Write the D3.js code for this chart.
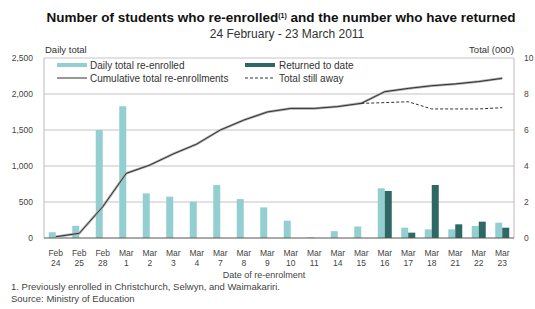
<!DOCTYPE html>
<html>
<head>
<meta charset="utf-8">
<script src="https://cdn.jsdelivr.net/npm/d3@7"></script>
<style>
  body { margin: 0; background: #fff; }
  text { font-family: "Liberation Sans", Arial, sans-serif; fill: #333; }
</style>
</head>
<body>
<div class="container"></div>
<script>
const dates = ["Feb 24","Feb 25","Feb 28","Mar 1","Mar 2","Mar 3","Mar 4","Mar 7","Mar 8","Mar 9",
               "Mar 10","Mar 11","Mar 14","Mar 15","Mar 16","Mar 17","Mar 18","Mar 21","Mar 22","Mar 23"];
const dailyReenrolled = [80,170,1500,1830,620,575,505,735,540,425,240,10,95,160,690,143,120,120,167,213];
const returnedToDate = [0,0,0,0,0,0,0,0,0,0,0,0,0,0,653,74,736,190,227,143];
const cumulativeTotal = [0.07,0.26,1.74,3.59,4.05,4.67,5.22,6.0,6.55,7.0,7.2,7.2,7.3,7.48,8.13,8.31,8.46,8.56,8.69,8.87];
const stillAway = [null,null,null,null,null,null,null,null,null,null,null,null,null,7.48,7.52,7.57,7.17,7.17,7.17,7.24];
const leftTicks = [0,500,1000,1500,2000,2500];
const rightTicks = [0,2,4,6,8,10];

const w = 535, h = 309;
const padL = 44, padR = 514, plotTop = 58, plotBottom = 238;

const svg = d3.select('.container').append('svg')
  .attr('width', w).attr('height', h);

const x = d3.scaleBand().domain(dates).range([padL, padR]);
const yL = d3.scaleLinear().domain([0, 2500]).range([plotBottom, plotTop]);
const yR = d3.scaleLinear().domain([0, 10]).range([plotBottom, plotTop]);

// title
svg.append('text')
  .attr('x', 281).attr('y', 22)
  .attr('text-anchor', 'middle')
  .style('font-size', '13.5px').style('font-weight', 'bold').style('fill', '#111')
  .html('Number of students who re-enrolled<tspan dy="-4" style="font-size:7px">(1)</tspan><tspan dy="4"> and the number who have returned</tspan>');
svg.append('text')
  .attr('x', 287).attr('y', 38)
  .attr('text-anchor', 'middle')
  .style('font-size', '12px')
  .text('24 February - 23 March 2011');

svg.append('text').attr('x', 45).attr('y', 53).style('font-size', '9.5px').text('Daily total');
svg.append('text').attr('x', 514).attr('y', 53).attr('text-anchor', 'end').style('font-size', '9.5px').text('Total (000)');

// gridlines
const grid = svg.append('g');
leftTicks.filter(d => d > 0).forEach(function(d, i) {
  grid.append('line')
    .attr('x1', padL).attr('x2', padR)
    .attr('y1', yL(d)).attr('y2', yL(d))
    .attr('stroke', '#e6b7b0').attr('stroke-dasharray', '2,2');
  grid.append('line')
    .attr('x1', padL).attr('x2', padR)
    .attr('y1', yL(d)).attr('y2', yL(d))
    .attr('stroke', '#a9cde0').attr('stroke-dasharray', '2,2').attr('stroke-dashoffset', 2);
});

// side frame lines
svg.append('line').attr('x1', padL).attr('x2', padL).attr('y1', plotTop).attr('y2', plotBottom).attr('stroke', '#bbb');
svg.append('line').attr('x1', padR).attr('x2', padR).attr('y1', plotTop).attr('y2', plotBottom).attr('stroke', '#bbb');

// axes
const yAxisL = d3.axisLeft(yL).tickValues(leftTicks).tickFormat(d3.format(',')).tickSize(0).tickPadding(11);
svg.append('g').attr('transform', 'translate(' + padL + ',0)').call(yAxisL)
  .call(g => g.select('.domain').remove())
  .selectAll('text').style('font-size', '8.5px').style('fill', '#444').style('font-family', '"Liberation Sans", Arial, sans-serif');

const yAxisR = d3.axisRight(yR).tickValues(rightTicks).tickSize(0).tickPadding(10);
svg.append('g').attr('transform', 'translate(' + padR + ',0)').call(yAxisR)
  .call(g => g.select('.domain').remove())
  .selectAll('text').style('font-size', '8.5px').style('fill', '#444').style('font-family', '"Liberation Sans", Arial, sans-serif');

// bars
const bw = 7;
svg.append('g').selectAll('rect')
  .data(dates)
  .enter().append('rect')
  .attr('x', d => x(d) + x.bandwidth() / 2 - bw)
  .attr('y', (d, i) => yL(dailyReenrolled[i]))
  .attr('width', bw)
  .attr('height', (d, i) => plotBottom - yL(dailyReenrolled[i]))
  .attr('fill', '#93cfd0');

svg.append('g').selectAll('rect')
  .data(dates)
  .enter().append('rect')
  .attr('x', d => x(d) + x.bandwidth() / 2)
  .attr('y', (d, i) => yL(returnedToDate[i]))
  .attr('width', bw)
  .attr('height', (d, i) => plotBottom - yL(returnedToDate[i]))
  .attr('fill', '#2d6864');

// bottom axis line
svg.append('line').attr('x1', padL).attr('x2', padR).attr('y1', plotBottom).attr('y2', plotBottom).attr('stroke', '#555');

// lines
const line = d3.line()
  .defined(d => d[1] != null)
  .x(d => x(d[0]) + x.bandwidth() / 2)
  .y(d => yR(d[1]));

const cumData = dates.map((d, i) => [d, cumulativeTotal[i]]);
const awayData = dates.map((d, i) => [d, stillAway[i]]);

svg.append('path').attr('d', line(cumData)).attr('fill', 'none').attr('stroke', '#aaa').attr('stroke-width', 2.5);
svg.append('path').attr('d', line(cumData)).attr('fill', 'none').attr('stroke', '#333').attr('stroke-width', 1);
svg.append('path').attr('d', line(awayData)).attr('fill', 'none').attr('stroke', '#333').attr('stroke-width', 1).attr('stroke-dasharray', '3,2');

// x labels
const xl = svg.append('g');
dates.forEach(function(d) {
  const cx = x(d) + x.bandwidth() / 2;
  const parts = d.split(' ');
  xl.append('text').attr('x', cx).attr('y', 256).attr('text-anchor', 'middle').style('font-size', '8.5px').style('fill', '#444').text(parts[0]);
  xl.append('text').attr('x', cx).attr('y', 266).attr('text-anchor', 'middle').style('font-size', '8.5px').style('fill', '#444').text(parts[1]);
});
svg.append('text').attr('x', 264).attr('y', 278).attr('text-anchor', 'middle').style('font-size', '9px').style('fill', '#444').text('Date of re-enrolment');

// legend
const lg = svg.append('g');
lg.append('rect').attr('x', 57).attr('y', 63).attr('width', 30).attr('height', 4).attr('fill', '#93cfd0');
lg.append('text').attr('x', 90).attr('y', 69).style('font-size', '10px').text('Daily total re-enrolled');
lg.append('rect').attr('x', 245).attr('y', 63).attr('width', 30).attr('height', 4).attr('fill', '#2d6864');
lg.append('text').attr('x', 279).attr('y', 69).style('font-size', '10px').text('Returned to date');
lg.append('line').attr('x1', 57).attr('x2', 87).attr('y1', 78).attr('y2', 78).attr('stroke', '#333');
lg.append('text').attr('x', 90).attr('y', 82).style('font-size', '10px').text('Cumulative total re-enrollments');
lg.append('line').attr('x1', 245).attr('x2', 275).attr('y1', 78).attr('y2', 78).attr('stroke', '#333').attr('stroke-dasharray', '3,2');
lg.append('text').attr('x', 279).attr('y', 82).style('font-size', '10px').text('Total still away');

// footnotes
svg.append('text').attr('x', 11).attr('y', 290).style('font-size', '9.5px').style('fill', '#444')
  .text('1. Previously enrolled in Christchurch, Selwyn, and Waimakariri.');
svg.append('text').attr('x', 11).attr('y', 302).style('font-size', '9.5px').style('fill', '#444')
  .text('Source: Ministry of Education');
</script>
</body>
</html>
